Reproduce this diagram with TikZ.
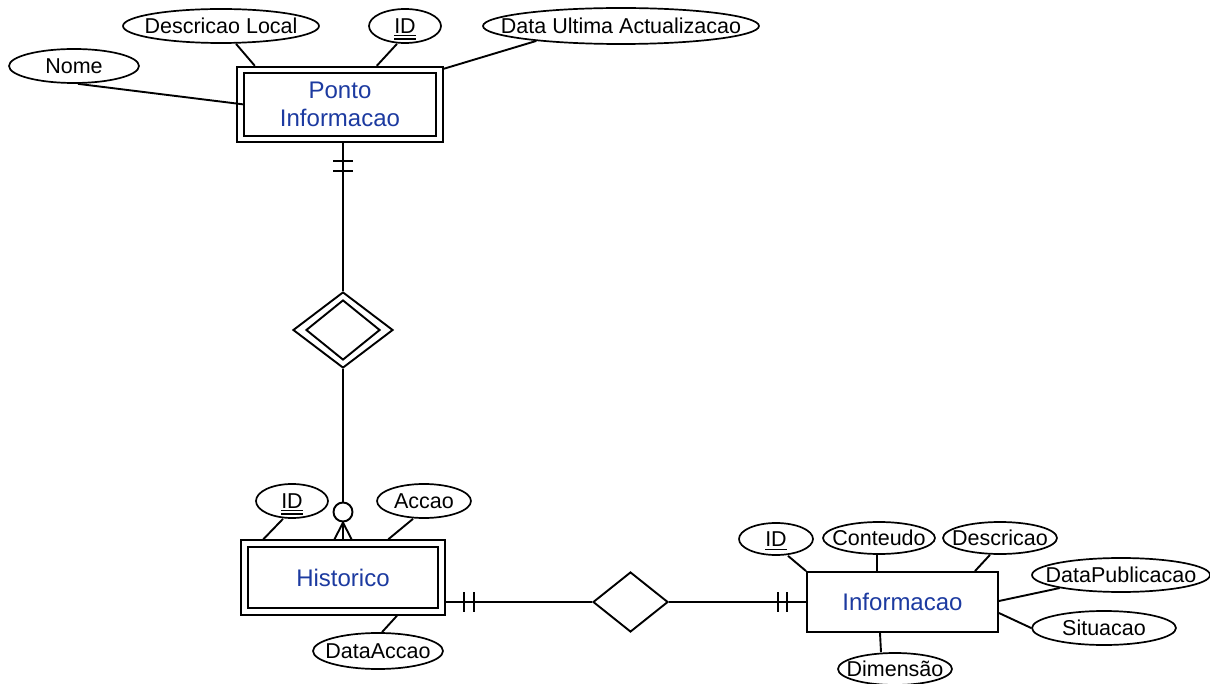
\documentclass[tikz,border=0pt]{standalone}
\usepackage{fontspec}
\setmainfont{Liberation Sans}
\usetikzlibrary{shapes.geometric,calc}
\definecolor{entblue}{RGB}{28,58,160}

% key attributes: single and double underline drawn as rules
\newcommand{\keyul}[1]{\setbox0=\hbox{#1}\rlap{\copy0}\smash{\rule[-4pt]{\wd0}{1.5pt}}}
\newcommand{\keydul}[1]{\setbox0=\hbox{#1}\rlap{\copy0}\rlap{\smash{\rule[-2.8pt]{\wd0}{1.3pt}}}\smash{\rule[-6.2pt]{\wd0}{1.3pt}}}

\tikzset{
  er/.style={line width=1.9pt},
  attr/.style={ellipse, draw, line width=1.7pt, inner sep=0pt,
    font=\fontsize{21.5}{25}\selectfont,
    execute at begin node={\hbox to 0pt\bgroup\hss},
    execute at end node={\hss\egroup}},
  weakent/.style={rectangle, draw, double, double distance=4.6pt, line width=1.9pt,
    outer sep=4.2pt, text=entblue, font=\fontsize{24}{28}\selectfont, align=center},
  ent/.style={rectangle, draw, line width=1.9pt, text=entblue,
    font=\fontsize{24}{28}\selectfont},
  rel/.style={diamond, draw, line width=1.9pt, inner sep=0pt},
}

\begin{document}
\begin{tikzpicture}[x=1pt,y=-1pt]
\useasboundingbox (0,0) rectangle (1210,684);

% entities
\node[weakent, minimum width=199pt, minimum height=69pt] (pi) at (340,104.5) {Ponto\\Informacao};
\node[weakent, minimum width=197pt, minimum height=68pt] (hi) at (343,577.5) {Historico};
\node[ent, minimum width=191pt, minimum height=60pt] (inf) at (902.5,602) {Informacao};

% relationships
\node[rel, minimum width=100pt, minimum height=76pt] (dd) at (343,330) {};
\node[rel, minimum width=74pt, minimum height=60pt] (ddin) at (343,330) {};
\node[rel, minimum width=75pt, minimum height=60pt] (rl) at (630.5,602) {};
\node[circle, draw, line width=1.9pt, minimum size=19pt, inner sep=0pt] (opt) at (343,512) {};

% attributes
\node[attr, minimum width=130pt, minimum height=34pt] (nome) at (74,66) {Nome};
\node[attr, minimum width=196pt, minimum height=34pt] (descl) at (221,26) {Descricao Local};
\node[attr, minimum width=72pt, minimum height=34pt] (idp) at (405,26) {\keydul{ID}};
\node[attr, minimum width=276pt, minimum height=36pt] (dua) at (621,26) {Data Ultima Actualizacao};
\node[attr, minimum width=72pt, minimum height=34pt] (idh) at (292,501) {\keydul{ID}};
\node[attr, minimum width=94pt, minimum height=34pt] (acc) at (424,501) {Accao};
\node[attr, minimum width=130pt, minimum height=36pt] (da) at (378,651) {DataAccao};
\node[attr, minimum width=74pt, minimum height=32pt] (idi) at (776,539) {\keyul{ID}};
\node[attr, minimum width=112pt, minimum height=32pt] (con) at (879,538) {Conteudo};
\node[attr, minimum width=114pt, minimum height=32pt] (des) at (1000,538) {Descricao};
\node[attr, minimum width=178pt, minimum height=34pt] (dp) at (1121,575) {DataPublicacao};
\node[attr, minimum width=144pt, minimum height=34pt] (sit) at (1104,628) {Situacao};
\node[attr, minimum width=114pt, minimum height=32pt] (dim) at (895,669) {Dimensão};

% Ponto Informacao attributes
\draw[er] ([xshift=4pt]nome.south) -- ([xshift=8pt]pi.west);
\draw[er] ([xshift=15pt]descl.south) -- ([xshift=18.5pt]pi.north west);
\draw[er] ([xshift=-8pt]idp.south) -- ([xshift=140.5pt]pi.north west);
\draw[er] (dua.190) -- ([yshift=-3pt]pi.north east);

% Ponto Informacao -- weak relationship (exactly one)
\coordinate (pib) at (dd.north |- pi.south);
\draw[er] (pib) -- (dd.north);
\draw[er] ($(pib)+(-10,18)$) -- ++(20,0);
\draw[er] ($(pib)+(-10,28)$) -- ++(20,0);

% weak relationship -- Historico (zero or many)
\draw[er] (dd.south) -- (opt.north);
\draw[er] (opt.south) -- ([xshift=-8.5pt]hi.north);
\draw[er] (opt.south) -- (hi.north);
\draw[er] (opt.south) -- ([xshift=8.5pt]hi.north);

% Historico attributes
\draw[er] ([xshift=-9pt]idh.south) -- ([xshift=23pt]hi.north west);
\draw[er] ([xshift=-11pt]acc.south) -- ([xshift=148pt]hi.north west);
\draw[er] ([xshift=54pt]hi.south) -- ([xshift=4pt]da.north);

% Historico -- relationship -- Informacao (exactly one on both sides)
\coordinate (hir) at (rl.west -| hi.east);
\draw[er] (hir) -- (rl.west);
\draw[er] ($(hir)+(18,-10)$) -- ++(0,20);
\draw[er] ($(hir)+(28,-10)$) -- ++(0,20);
\draw[er] (rl.east) -- (inf.west);
\draw[er] ($(inf.west)+(-28,-10)$) -- ++(0,20);
\draw[er] ($(inf.west)+(-19,-10)$) -- ++(0,20);

% Informacao attributes
\draw[er] ([xshift=12pt]idi.south) -- (inf.north west);
\draw[er] ([xshift=-2pt]con.south) -- ([xshift=-25.5pt]inf.north);
\draw[er] ([xshift=-10pt]des.south) -- ([xshift=72.5pt]inf.north);
\draw[er] (dp.192) -- ([yshift=1pt]inf.east);
\draw[er] ([yshift=-11pt]inf.east) -- (sit.west);
\draw[er] ([xshift=-22.5pt]inf.south) -- ([xshift=-14pt]dim.north);
\end{tikzpicture}
\end{document}
